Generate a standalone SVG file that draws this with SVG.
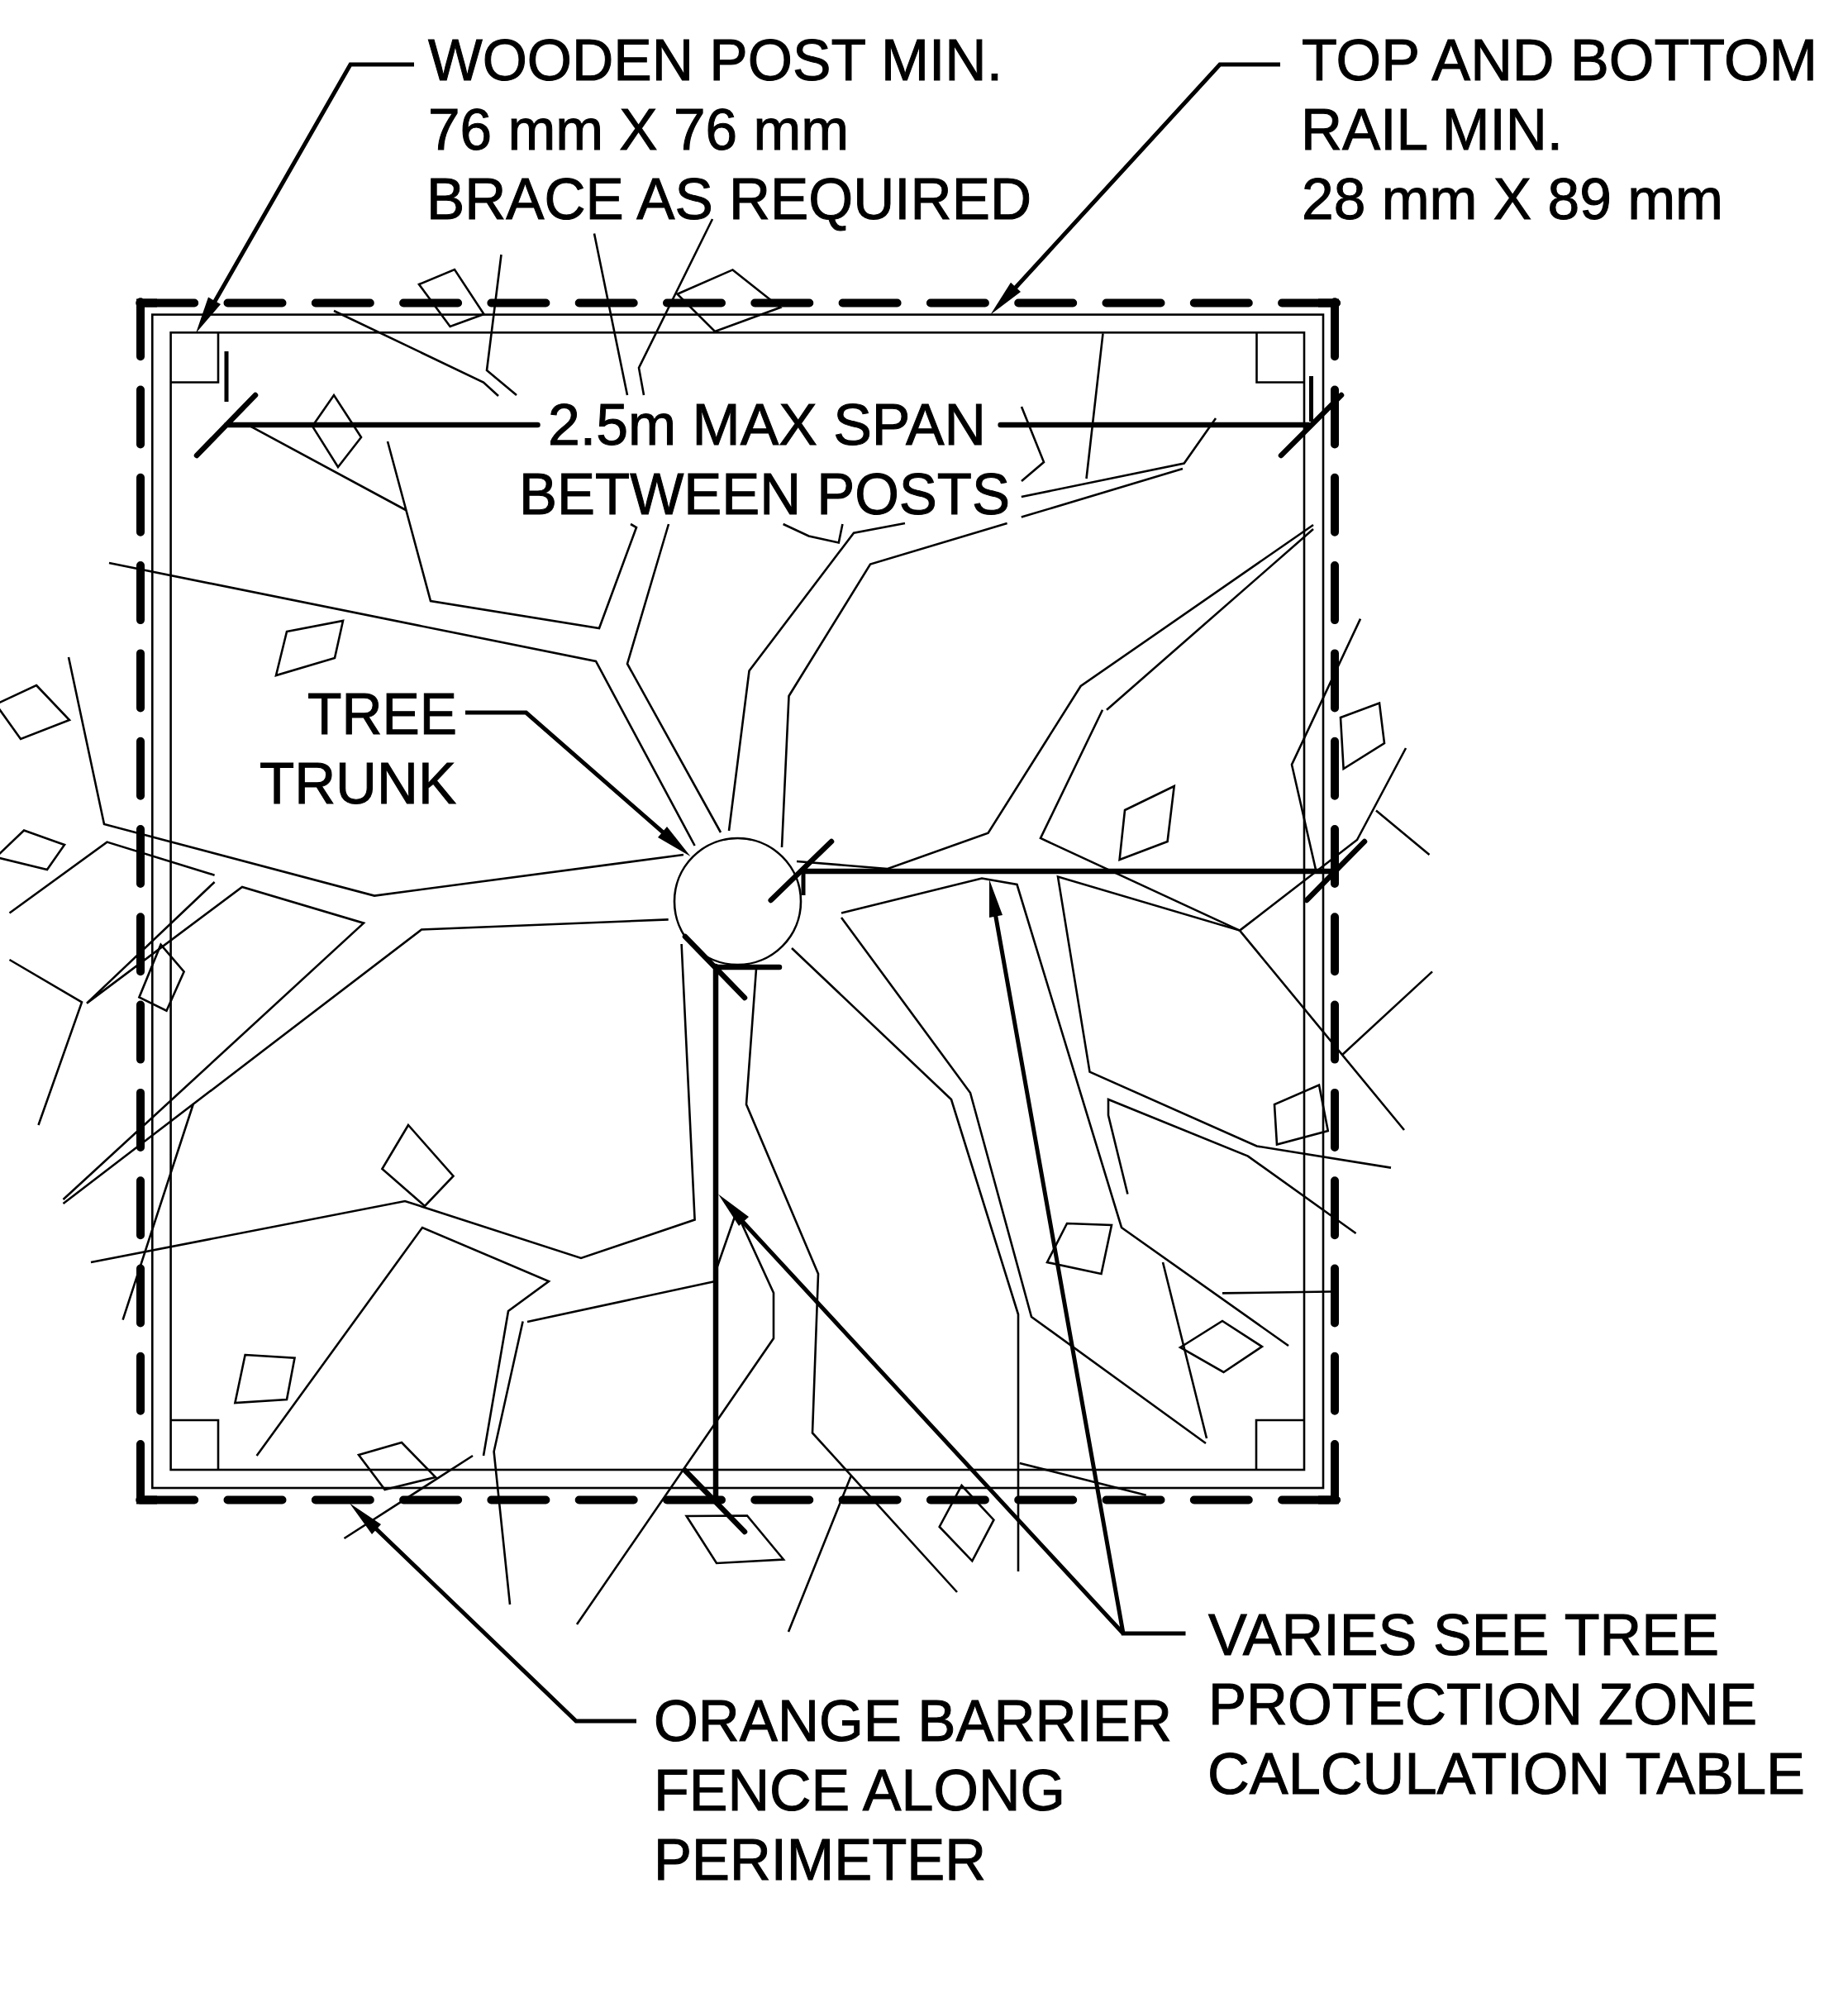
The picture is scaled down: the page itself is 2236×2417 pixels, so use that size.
<svg xmlns="http://www.w3.org/2000/svg" width="2236" height="2417" viewBox="0 0 2236 2417">
<style>
text{font-family:"Liberation Sans",Arial,sans-serif;font-size:70px;fill:#000;stroke:#000;stroke-width:1}
.t{fill:none;stroke:#000;stroke-width:2.6;stroke-linejoin:miter}
.f{fill:none;stroke:#000;stroke-width:10;stroke-linecap:round;stroke-dasharray:66 40.3}
.c{fill:none;stroke:#000;stroke-width:10;stroke-linejoin:miter}
.l{fill:none;stroke:#000;stroke-width:5}
.d{fill:none;stroke:#000;stroke-width:6.5;stroke-linecap:round}
.a{fill:#000;stroke:none}
</style>
<rect width="2236" height="2417" fill="#fff"/>
<g id="tree">
<circle class="t" cx="892.5" cy="1090.5" r="76.5"/>
<path class="t" d="M404,376L585,462.5L603,479M606.5,308L589,448L625,478M719,282.5L759,478M862,265L773,445L779,478"/>
<path class="t" d="M303,515.6L491,617M469,534L521,727L725,760L770,638L763,634M132,681L721,800L840.6,1023M809,634L759,803L872,1007"/>
<path class="t" d="M83,795L126,997L453,1083.6L827,1034M11.5,1104.5L129.5,1018.6L259.6,1058.7M259.6,1067L105,1213.6L293,1073L440,1116.7L76.5,1451M76.5,1456L510,1124.5L808.7,1112.4M11.5,1161L99,1212.4L46.5,1361M234,1335L148.6,1596.7"/>
<path class="t" d="M110,1527L490,1453L703,1522L840.6,1475.5L824.6,1142M310.6,1761L511,1485L664,1550L615,1586L585,1761M865.4,1550L638,1599M632.6,1598.5L597.6,1756L617,1941M572,1761L416.5,1861M868,1532L891,1466L936,1564L936,1619L698,1965"/>
<path class="t" d="M915,1172L903,1336L990,1541L983,1733.4L1158,1926M958,1147L1151,1330L1232,1590L1232,1901M1018,1110L1174,1322L1248,1593L1459,1746M1407,1527L1460,1740M1018,1104.6L1188,1062.5L1230.5,1070L1357,1485L1559,1628"/>
<path class="t" d="M1683,1412.6L1520.6,1386.5L1318.5,1296.6L1280,1060.6L1500,1125.6L1699,1367M1364.4,1444.5L1341,1349L1341,1330L1510,1398.6L1640.6,1492M1500,1125.6L1642,1016L1701,905M1665,980.6L1729.5,1034M1646,748.6L1563,925L1592,1052"/>
<path class="t" d="M1589,635L1307.6,830L1195.6,1007.7L1074,1051L964,1042M1589,640L1339,858.7M1334,858.7L1259,1014L1500,1125.6M1471,506L1432.7,560.6L1235.8,601M1431,567L1235.8,625.6M1218.6,633L1053,682.5L954.5,842L946,1025M1095,633L1033,644.6L906.5,811.5L882,1005"/>
<path class="t" d="M1334.5,403.4L1314.5,579M1236,492L1263,559L1236,582M947.6,634L978.6,648.4L1014.8,656.5L1019.4,634M1733,1175.4L1624.6,1275.5M1479,1564.4L1610,1562.5M1233.7,1770L1386.7,1808.7M1029.6,1785.7L954,1974"/>
<g class="t">
<polygon points="507,344 550,326 585.5,380 544.6,395"/>
<polygon points="819.5,355.7 886.5,326.4 944,372 865,401"/>
<polygon points="378,515.6 404,478 437,529 409,565"/>
<polygon points="347,764 415,751 405,796 334,817"/>
<polygon points="44,829 84,871 25,894 -5,852"/>
<polygon points="29,1004.5 78,1022 57,1052 -5,1037"/>
<polygon points="194.5,1142.7 222.6,1175.5 201.5,1222.7 168.4,1206.4"/>
<polygon points="494,1361 548.5,1422.7 514,1459 462.4,1414"/>
<polygon points="296.6,1639 356.5,1642.7 347,1693 284.4,1697"/>
<polygon points="434,1760 486,1745 527,1787 465.6,1802"/>
<polygon points="1622,868 1669,850.5 1675,899 1625.6,930"/>
<polygon points="1361,980 1420.7,951 1412.6,1018 1354.6,1040"/>
<polygon points="1291,1480 1345,1482 1332.5,1541 1267,1527"/>
<polygon points="1596,1312.5 1606.8,1368 1545,1384.6 1542,1336"/>
<polygon points="1428,1630 1479,1598 1527,1629 1480.5,1660"/>
<polygon points="1163.5,1797 1202.4,1838.7 1176.3,1888.4 1136.7,1847"/>
<polygon points="830.6,1834 904,1833.5 948,1886.5 867,1891"/>
</g>
</g>
<g id="fence">
<rect class="t" x="184.3" y="380.6" width="1416.7" height="1419.4"/>
<rect class="t" x="206.6" y="402.3" width="1371.4" height="1375.7"/>
<path class="t" d="M264,402.3V462.5H206.6M1520.5,402.3V462.5H1578M264,1778V1718H206.6M1520,1778V1718H1578"/>
<path class="f" d="M169.2,366.5H1619M169.2,1814.5H1619M170,365.2V1816M1615,365.2V1816"/>
<path class="c" d="M170,385V366.5H190M1595,366.5H1615V385M170,1795V1814.5H190M1595,1814.5H1615V1795"/>
</g>
<g id="connectors">
<path class="l" d="M501,78H424L250,382M1549,78H1476L1214,364M563,862H636.5L816,1019M770,2082H697L440,1835M1434.5,1976H1359L1204,1104M1359,1976L884,1462"/>
<polygon class="a" points="237,403 267,368 252,359.5"/>
<polygon class="a" points="1198.5,380.6 1235,353 1223,341.7"/>
<polygon class="a" points="835.5,1036 807,1000 796,1013"/>
<polygon class="a" points="1197,1064 1213,1107 1197,1110"/>
<polygon class="a" points="869,1444.5 906,1472 894,1483"/>
<polygon class="a" points="423,1818.5 461,1844 450,1856"/>
<path class="d" d="M650.5,514H274M238,551L309,478M1210.6,514H1583M1550,551L1623,478M932.7,1089L1006,1018M969,1054H1616M1581,1089L1651,1018M866,1169V1815M829,1133L901,1207M866,1170H943M829,1779L901,1853"/>
<path class="l" d="M274,425V486M1586.5,455V510M972,1054V1083"/>
</g>
<g id="labels">
<text x="518" y="97" textLength="695" lengthAdjust="spacingAndGlyphs">WOODEN POST MIN.</text>
<text x="518" y="181" textLength="509" lengthAdjust="spacingAndGlyphs">76 mm X 76 mm</text>
<text x="516" y="265" textLength="732" lengthAdjust="spacingAndGlyphs">BRACE AS REQUIRED</text>
<text x="1575" y="97" textLength="624" lengthAdjust="spacingAndGlyphs">TOP AND BOTTOM</text>
<text x="1574" y="181" textLength="317" lengthAdjust="spacingAndGlyphs">RAIL MIN.</text>
<text x="1575" y="265" textLength="510" lengthAdjust="spacingAndGlyphs">28 mm X 89 mm</text>
<text x="663" y="538" textLength="530" lengthAdjust="spacingAndGlyphs">2.5m MAX SPAN</text>
<text x="628" y="622" textLength="594" lengthAdjust="spacingAndGlyphs">BETWEEN POSTS</text>
<text x="372" y="888" textLength="181" lengthAdjust="spacingAndGlyphs">TREE</text>
<text x="314" y="972" textLength="238" lengthAdjust="spacingAndGlyphs">TRUNK</text>
<text x="1462" y="2002" textLength="618" lengthAdjust="spacingAndGlyphs">VARIES SEE TREE</text>
<text x="1462" y="2086" textLength="664" lengthAdjust="spacingAndGlyphs">PROTECTION ZONE</text>
<text x="1461" y="2170" textLength="723" lengthAdjust="spacingAndGlyphs">CALCULATION TABLE</text>
<text x="791" y="2106" textLength="627" lengthAdjust="spacingAndGlyphs">ORANGE BARRIER</text>
<text x="791" y="2190" textLength="498" lengthAdjust="spacingAndGlyphs">FENCE ALONG</text>
<text x="791" y="2274" textLength="402" lengthAdjust="spacingAndGlyphs">PERIMETER</text>
</g>
</svg>
